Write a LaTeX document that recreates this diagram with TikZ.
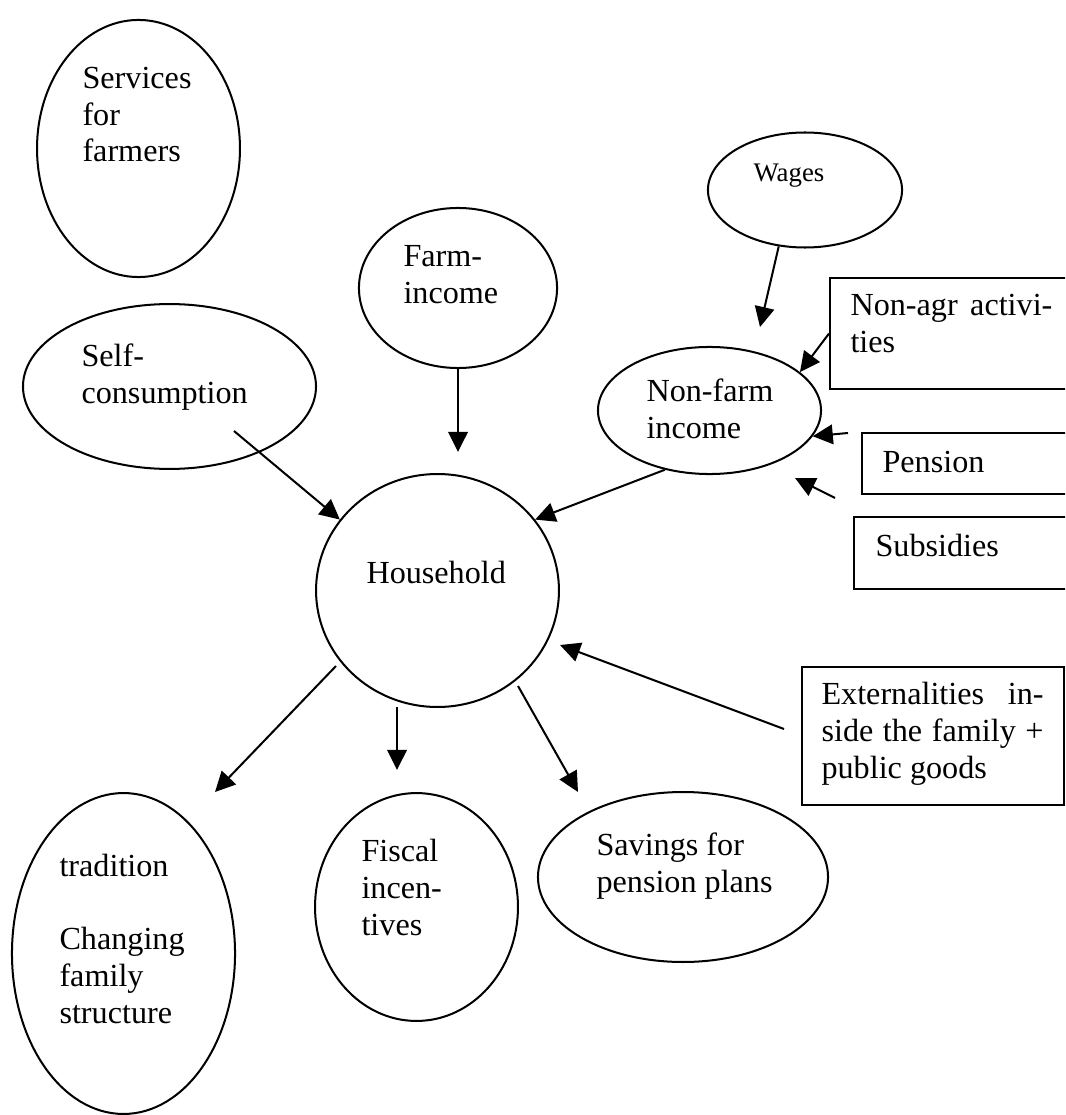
\documentclass[tikz,border=0pt]{standalone}
\usepackage{fontspec}
\setmainfont{Liberation Serif}
\usetikzlibrary{shapes.geometric, arrows.meta}

\begin{document}
\begin{tikzpicture}[x=0.373pt, y=-0.373pt,
    oval/.style={draw, ellipse, line width=0.75pt, inner sep=0pt},
    box/.style={draw, rectangle, line width=0.75pt, inner sep=0pt, anchor=north west},
    txt/.style={inner sep=0pt, anchor=base west, align=left, font=\fontsize{12pt}{13.7pt}\selectfont},
    arr/.style={line width=0.75pt, -{Triangle[length=7.5pt, width=7.3pt]}}]
    \useasboundingbox (0,0) rectangle (1065,1115);
    \clip (0,0) rectangle (1065,1115);
    % Ellipses
    \node[oval, minimum width=75.7pt, minimum height=95.9pt] (svc) at (138.5,148.5) {};
    \node[oval, minimum width=73.9pt, minimum height=59.7pt] (fi) at (458,288) {};
    \node[oval, minimum width=72.4pt, minimum height=42.9pt] (wg) at (805,190) {};
    \node[oval, minimum width=109.3pt, minimum height=61.5pt] (sc) at (169.5,386.5) {};
    \node[oval, minimum width=83.2pt, minimum height=47.4pt] (nf) at (709.5,410.5) {};
    \node[oval, minimum width=90.6pt, minimum height=86.9pt] (hh) at (437.5,590.5) {};
    \node[oval, minimum width=83.2pt, minimum height=119.7pt] (tr) at (123.5,953.5) {};
    \node[oval, minimum width=75.7pt, minimum height=85pt] (fs) at (416.5,907) {};
    \node[oval, minimum width=108.2pt, minimum height=63.4pt] (sv) at (683,877) {};
    % Boxes
    \node[box, minimum width=91.8pt, minimum height=41.4pt] (na) at (829,277) {};
    \node[box, minimum width=79.8pt, minimum height=22.8pt] (pe) at (861,432) {};
    \node[box, minimum width=82.8pt, minimum height=26.9pt] (su) at (853,516) {};
    \node[box, minimum width=97.7pt, minimum height=51.5pt] (ex) at (801,666) {};
    % Labels (placed at the baseline of their last line)
    \node[txt] (svc-t) at (82,162) {Services\\for\\farmers};
    \node[txt] (fi-t) at (403,303) {Farm-\\income};
    \node[txt, font=\fontsize{10pt}{12pt}\selectfont] (wg-t) at (753,182) {Wages};
    \node[txt] (sc-t) at (81,403) {Self-\\consumption};
    \node[txt] (nf-t) at (646,438) {Non-farm\\income};
    \node[txt] (na-t) at (850,352) {\makebox[75.3pt][s]{Non-agr activi-}\\ties};
    \node[txt] (pe-t) at (882,472) {Pension};
    \node[txt] (su-t) at (875,556) {Subsidies};
    \node[txt] (hh-t) at (366,583) {Household};
    \node[txt] (ex-t) at (821,778) {\makebox[82.8pt][s]{Externalities in-}\\\makebox[82.8pt][s]{side the family +}\\public goods};
    \node[txt] (tr-t) at (59,1023) {tradition\\[13.7pt]Changing\\family\\structure};
    \node[txt] (fs-t) at (361,935) {Fiscal\\incen-\\tives};
    \node[txt] (sv-t) at (596,892) {Savings for\\pension plans};
    % Free arrow ends
    \coordinate (wg-end) at (760,327);
    \coordinate (pe-start) at (848,433);
    \coordinate (su-start) at (835,498);
    \coordinate (su-end) at (795,478);
    \coordinate (sc-start) at (234,431);
    \coordinate (fi-end) at (458,452);
    \coordinate (ex-start) at (784,729);
    \coordinate (ex-end) at (560,645);
    \coordinate (hh-a) at (336,666);
    \coordinate (hh-b) at (397,707);
    \coordinate (hh-c) at (518,686);
    \coordinate (tr-end) at (215,792);
    \coordinate (fs-end) at (397,770);
    \coordinate (sv-end) at (578,792);
    % Arrows into non-farm income
    \draw[arr] (wg.-115) -- (wg-end);
    \draw[arr] (na.west) -- (nf.23);
    \draw[arr] (pe-start) -- (nf.-14);
    \draw[arr] (su-start) -- (su-end);
    % Arrows into household
    \draw[arr] (nf.-127) -- (hh.36);
    \draw[arr] (sc-start) -- (hh.144);
    \draw[arr] (fi.south) -- (fi-end);
    \draw[arr] (ex-start) -- (ex-end);
    % Arrows out of household
    \draw[arr] (hh-a) -- (tr-end);
    \draw[arr] (hh-b) -- (fs-end);
    \draw[arr] (hh-c) -- (sv-end);
\end{tikzpicture}
\end{document}
